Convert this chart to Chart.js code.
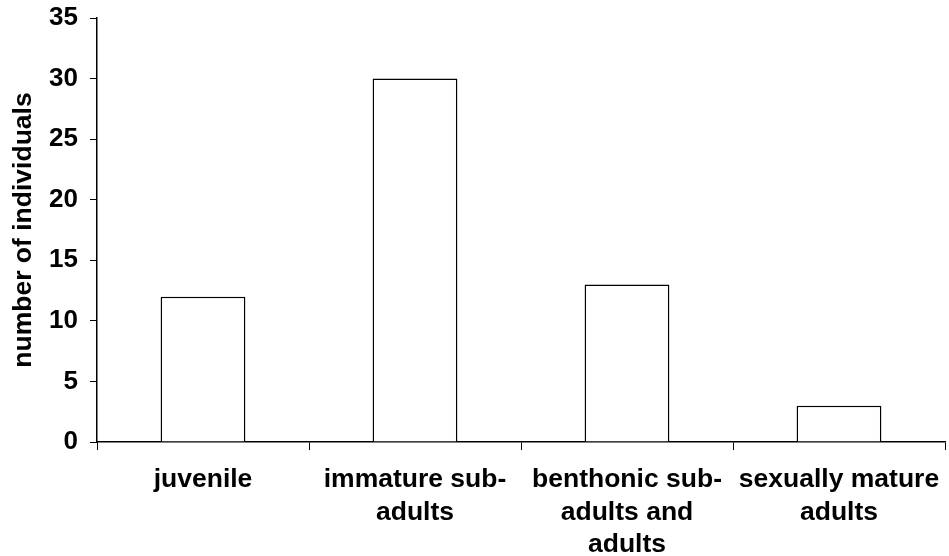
<!DOCTYPE html>
<html>
<head>
<meta charset="utf-8">
<script src="https://cdn.jsdelivr.net/npm/chart.js@4/dist/chart.umd.min.js"></script>
<style>
  html, body { margin: 0; padding: 0; background: #fff; }
  #wrap { width: 949px; height: 556px; }
</style>
</head>
<body>
<div id="wrap"><canvas id="myChart" width="949" height="556"></canvas></div>
<script>
var categories = [
  'juvenile',
  ['immature sub-', 'adults'],
  ['benthonic sub-', 'adults and', 'adults'],
  ['sexually mature', 'adults']
];
var individuals = [12, 30, 13, 3];
var yTicks = [0, 5, 10, 15, 20, 25, 30, 35];

var fontFamily = '"Liberation Sans", Arial, sans-serif';

var ctx = document.getElementById('myChart').getContext('2d');
var myChart = new Chart(ctx, {
  type: 'bar',
  data: {
    labels: categories,
    datasets: [{
      label: 'number of individuals',
      data: individuals,
      backgroundColor: '#ffffff',
      borderColor: '#000000',
      borderWidth: 1.5,
      barPercentage: 0.4,
      categoryPercentage: 1.0
    }]
  },
  options: {
    responsive: false,
    animation: false,
    layout: { padding: { top: 18, right: 4, bottom: 0, left: 0 } },
    plugins: {
      legend: { display: false },
      tooltip: { enabled: false }
    },
    scales: {
      x: {
        afterFit: function (scale) {
          scale.height = 114;
          scale.paddingLeft = 0;
          scale.paddingRight = 0;
        },
        grid: {
          offset: true,
          drawOnChartArea: false,
          drawTicks: true,
          tickLength: 8,
          color: '#000000'
        },
        border: { display: true, color: '#000000', width: 1.5 },
        ticks: {
          color: '#000000',
          font: { family: fontFamily, size: 26.5, weight: 'bold', lineHeight: 1.24 },
          padding: 13,
          maxRotation: 0,
          autoSkip: false
        }
      },
      y: {
        min: 0,
        max: 35,
        afterFit: function (scale) {
          scale.width = 97;
          scale.paddingTop = 0;
          scale.paddingBottom = 0;
        },
        afterBuildTicks: function (scale) {
          scale.ticks = yTicks.map(function (v) { return { value: v }; });
        },
        grid: {
          drawOnChartArea: false,
          drawTicks: true,
          tickLength: 7,
          color: '#000000'
        },
        border: { display: true, color: '#000000', width: 1.5 },
        ticks: {
          color: '#000000',
          font: { family: fontFamily, size: 26, weight: 'bold' },
          padding: 12
        },
        title: {
          display: true,
          text: 'number of individuals',
          color: '#000000',
          font: { family: fontFamily, size: 26.5, weight: 'bold' },
          padding: { top: 8, bottom: 0 }
        }
      }
    }
  }
});
</script>
</body>
</html>
